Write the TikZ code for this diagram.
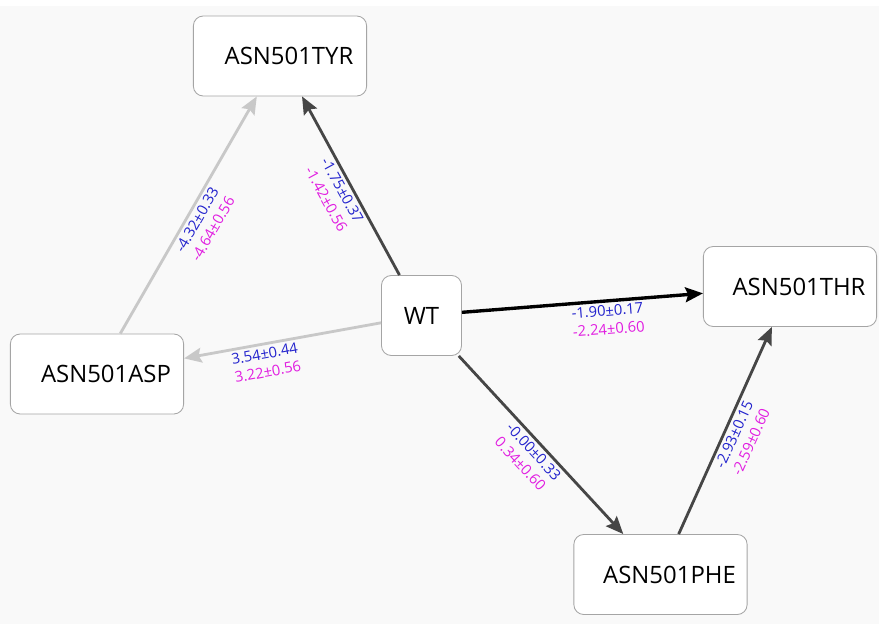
\documentclass[tikz,border=0pt]{standalone}
\usepackage{fontspec}
\setmainfont{Open Sans}
\usepackage{xcolor}
\usepackage{tikz}
\usetikzlibrary{arrows.meta}
\definecolor{bgcol}{RGB}{249,249,249}
\definecolor{boxline}{RGB}{165,165,165}
\definecolor{edgedark}{RGB}{70,70,70}
\definecolor{edgelight}{RGB}{200,200,200}
\definecolor{ddgblue}{RGB}{35,35,205}
\definecolor{ddgpink}{RGB}{225,30,225}
\tikzstyle{box} = [draw=boxline,line width=0.6pt,fill=white,rounded corners=7pt,font=\fontsize{17}{20}\selectfont]
\tikzstyle{mut} = [box,minimum width=4.33cm,minimum height=2cm,execute at begin node={\hspace{0.45cm}}]
\tikzstyle{arrow} = [line width=2pt,-{Stealth[length=12.5pt,width=10.5pt,inset=2pt]}]
\tikzstyle{ddg} = [sloped,below,align=center,inner sep=2pt,font=\fontsize{10.5}{13}\selectfont]
\newcommand{\ddgpair}[2]{\textcolor{ddgblue}{#1}\\\textcolor{ddgpink}{#2}}

\begin{document}
\begin{tikzpicture}[x=0.025cm,y=-0.025cm]
  \fill[white] (0,0) rectangle (879,624);
  \fill[bgcol] (0,6) rectangle (879,624);
  % states
  \node[mut] (tyr) at (280,56) {ASN501TYR};
  \node[box,minimum size=2cm] (wt) at (421.5,315.5) {WT};
  \node[mut] (thr) at (790,286.5) {ASN501THR};
  \node[mut] (asp) at (97,374) {ASN501ASP};
  \node[mut] (phe) at (660.5,574.5) {ASN501PHE};
  % transformations
  \draw[arrow,edgelight] (asp) -- node[ddg] {\ddgpair{-4.32±0.33}{-4.64±0.56}} (tyr);
  \draw[arrow,edgelight] (wt) -- node[ddg,pos=0.6] {\ddgpair{3.54±0.44}{3.22±0.56}} (asp);
  \draw[arrow,edgedark] (wt) -- node[ddg] {\ddgpair{-1.75±0.37}{-1.42±0.56}} (tyr);
  \draw[arrow,black,line width=2.4pt] (wt) -- node[ddg,pos=0.6] {\ddgpair{-1.90±0.17}{-2.24±0.60}} (thr);
  \draw[arrow,edgedark] (wt) -- node[ddg] {\ddgpair{-0.00±0.33}{0.34±0.60}} (phe);
  \draw[arrow,edgedark] (phe) -- node[ddg] {\ddgpair{-2.93±0.15}{-2.59±0.60}} (thr);
\end{tikzpicture}
\end{document}
